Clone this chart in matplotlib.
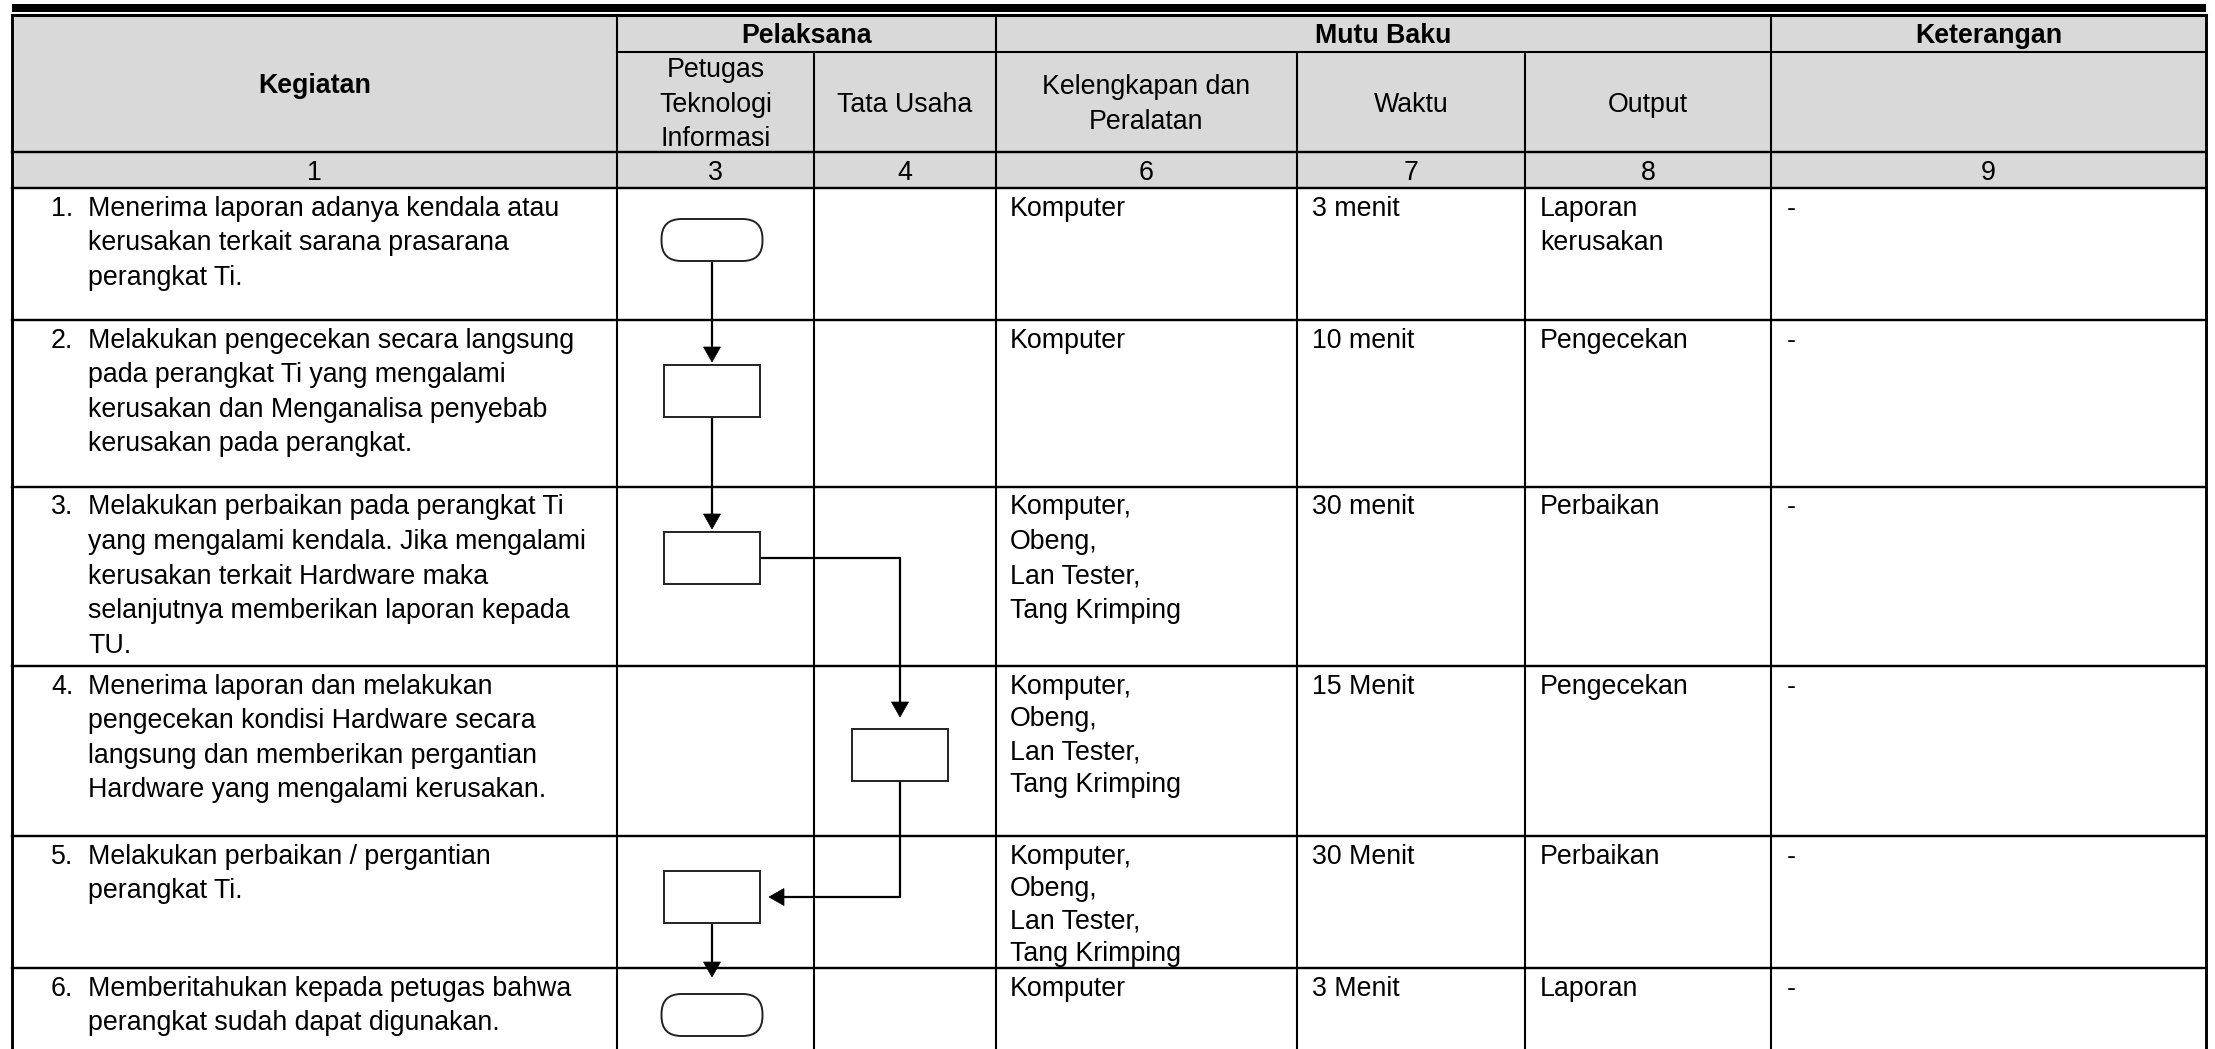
import matplotlib
matplotlib.use("Agg")
import matplotlib.pyplot as plt
from matplotlib.patches import Rectangle, FancyBboxPatch, Polygon

plt.rcParams["font.family"] = ["Liberation Sans", "DejaVu Sans"]

# ---- table content -------------------------------------------------------
group_headers = ["Pelaksana", "Mutu Baku", "Keterangan"]
sub_headers = [["Petugas", "Teknologi", "Informasi"], ["Tata Usaha"],
               ["Kelengkapan dan", "Peralatan"], ["Waktu"], ["Output"], []]
col_numbers = ["1", "3", "4", "6", "7", "8", "9"]

activities = [
    ["Menerima laporan adanya kendala atau", "kerusakan terkait sarana prasarana", "perangkat Ti."],
    ["Melakukan pengecekan secara langsung", "pada perangkat Ti yang mengalami",
     "kerusakan dan Menganalisa penyebab", "kerusakan pada perangkat."],
    ["Melakukan perbaikan pada perangkat Ti", "yang mengalami kendala. Jika mengalami",
     "kerusakan terkait Hardware maka", "selanjutnya memberikan laporan kepada", "TU."],
    ["Menerima laporan dan melakukan", "pengecekan kondisi Hardware secara",
     "langsung dan memberikan pergantian", "Hardware yang mengalami kerusakan."],
    ["Melakukan perbaikan / pergantian", "perangkat Ti."],
    ["Memberitahukan kepada petugas bahwa", "perangkat sudah dapat digunakan."],
]
tools = ["Komputer", "Komputer", "Komputer,\nObeng,\nLan Tester,\nTang Krimping",
         "Komputer,\nObeng,\nLan Tester,\nTang Krimping",
         "Komputer,\nObeng,\nLan Tester,\nTang Krimping", "Komputer"]
durations = ["3 menit", "10 menit", "30 menit", "15 Menit", "30 Menit", "3 Menit"]
outputs = ["Laporan\nkerusakan", "Pengecekan", "Perbaikan", "Pengecekan", "Perbaikan", "Laporan"]
notes = ["-", "-", "-", "-", "-", "-"]

# flowchart: lane 0 = Petugas TI, lane 1 = Tata Usaha
step_lane = [0, 0, 0, 1, 0, 0]
step_shape = ["term", "box", "box", "box", "box", "term"]

# ---- layout (pixels) -----------------------------------------------------
W, H = 2215, 1049
col_x = [12, 617, 814, 996, 1297, 1525, 1771, 2206]
head_y = [15, 52, 152, 188]
row_y = [188, 320, 487, 666, 836, 968, H + 5]
shape_dy = [52, 71, 71, 89, 61, 47]
tool_line = [34.6, 34.6, 34.4, 33.0, 32.6, 34.6]
lane_x = [712, 900]
GRAY = "#D9D9D9"
FS = 19.3
LINE = 34.6
LW = 1.5

fig = plt.figure(figsize=(W / 100, H / 100), dpi=100)
ax = fig.add_axes([0, 0, 1, 1])
ax.set_xlim(0, W)
ax.set_ylim(H, 0)
ax.axis("off")


def lines_text(x, y_first, lines, ha="left", bold=False, step=LINE):
    for i, s in enumerate(lines):
        ax.text(x, y_first + i * step + 9.5, s, ha=ha, va="baseline", fontsize=FS,
                fontweight="bold" if bold else "normal", color="black")


def centered(x0, x1, y0, y1, lines, bold=False):
    yc = (y0 + y1) / 2
    first = yc - (len(lines) - 1) * LINE / 2
    lines_text((x0 + x1) / 2, first, lines, ha="center", bold=bold)


# thick rule above the table
ax.add_patch(Rectangle((col_x[0], 4), col_x[-1] - col_x[0], 8, color="black", lw=0))
# header background
ax.add_patch(Rectangle((col_x[0], head_y[0]), col_x[-1] - col_x[0], head_y[3] - head_y[0],
                       facecolor=GRAY, edgecolor="none"))

# horizontal rules
ax.plot([col_x[0], col_x[-1]], [head_y[0]] * 2, color="black", lw=2.2)
ax.plot([col_x[1], col_x[-1]], [head_y[1]] * 2, color="black", lw=LW)
for y in head_y[2:] + row_y[1:-1]:
    ax.plot([col_x[0], col_x[-1]], [y, y], color="black", lw=LW * 1.15)
# vertical rules
full_cols = [0, 1, 3, 6, 7]
for i, x in enumerate(col_x):
    top = head_y[0] if i in full_cols else head_y[1]
    ax.plot([x, x], [top, H + 5], color="black", lw=LW * (1.4 if i in (0, 7) else 1))

# header text
centered(col_x[0], col_x[1], head_y[0], head_y[2], ["Kegiatan"], bold=True)
groups = [(1, 3), (3, 6), (6, 7)]
for (a, b), name in zip(groups, group_headers):
    centered(col_x[a], col_x[b], head_y[0], head_y[1], [name], bold=True)
for j, lines in enumerate(sub_headers):
    if lines:
        centered(col_x[j + 1], col_x[j + 2], head_y[1], head_y[2], lines)
for j, num in enumerate(col_numbers):
    centered(col_x[j], col_x[j + 1], head_y[2], head_y[3], [num])

# body text
for r in range(len(activities)):
    y0 = row_y[r] + 18
    ax.text(col_x[0] + 39, y0 + 9.5, f"{r + 1}.", ha="left", va="baseline", fontsize=FS)
    lines_text(col_x[0] + 76, y0, activities[r])
    lines_text(col_x[3] + 14, y0, tools[r].split("\n"), step=tool_line[r])
    lines_text(col_x[4] + 15, y0, durations[r].split("\n"))
    lines_text(col_x[5] + 15, y0, outputs[r].split("\n"))
    lines_text(col_x[6] + 16, y0, notes[r].split("\n"))

# flowchart shapes
BOX_W, BOX_H = 96, 52
TERM_W, TERM_H = 101, 42
bounds = []
for r, (lane, kind) in enumerate(zip(step_lane, step_shape)):
    cx, cy = lane_x[lane], row_y[r] + shape_dy[r]
    if kind == "box":
        w, h = BOX_W, BOX_H
        ax.add_patch(Rectangle((cx - w / 2, cy - h / 2), w, h, facecolor="white",
                               edgecolor="#222222", lw=1.4, zorder=3))
    else:
        w, h = TERM_W, TERM_H
        ax.add_patch(FancyBboxPatch((cx - w / 2, cy - h / 2), w, h,
                                    boxstyle="round,pad=0,rounding_size=20",
                                    facecolor="white", edgecolor="#222222", lw=1.4,
                                    zorder=3))
    bounds.append((cx, cy, w, h))


def arrow_head(x, y, direction):
    hw, hl = 8.5, 15
    if direction == "down":
        pts = [(x - hw, y - hl), (x + hw, y - hl), (x, y)]
    else:  # left
        pts = [(x + hl, y - hw), (x + hl, y + hw), (x, y)]
    ax.add_patch(Polygon(pts, closed=True, color="black", lw=0.5, zorder=4))


for (ax0, ay0, w0, h0), (ax1, ay1, w1, h1) in zip(bounds[:-1], bounds[1:]):
    if ax0 == ax1:
        gap = 3 if h1 == BOX_H else 17
        ys, ye = ay0 + h0 / 2, ay1 - h1 / 2 - gap
        ax.plot([ax0, ax0], [ys, ye - 10], color="black", lw=1.6, zorder=2)
        arrow_head(ax0, ye, "down")
    elif ax1 > ax0:
        xs = ax0 + w0 / 2
        ye = ay1 - h1 / 2 - 12
        ax.plot([xs, ax1, ax1], [ay0, ay0, ye - 10], color="black", lw=1.6, zorder=2)
        arrow_head(ax1, ye, "down")
    else:
        ys = ay0 + h0 / 2
        xe = ax1 + w1 / 2 + 9
        ax.plot([ax0, ax0, xe + 10], [ys, ay1, ay1], color="black", lw=1.6, zorder=2)
        arrow_head(xe, ay1, "left")

fig.savefig("out.png", dpi=100, facecolor="white")
